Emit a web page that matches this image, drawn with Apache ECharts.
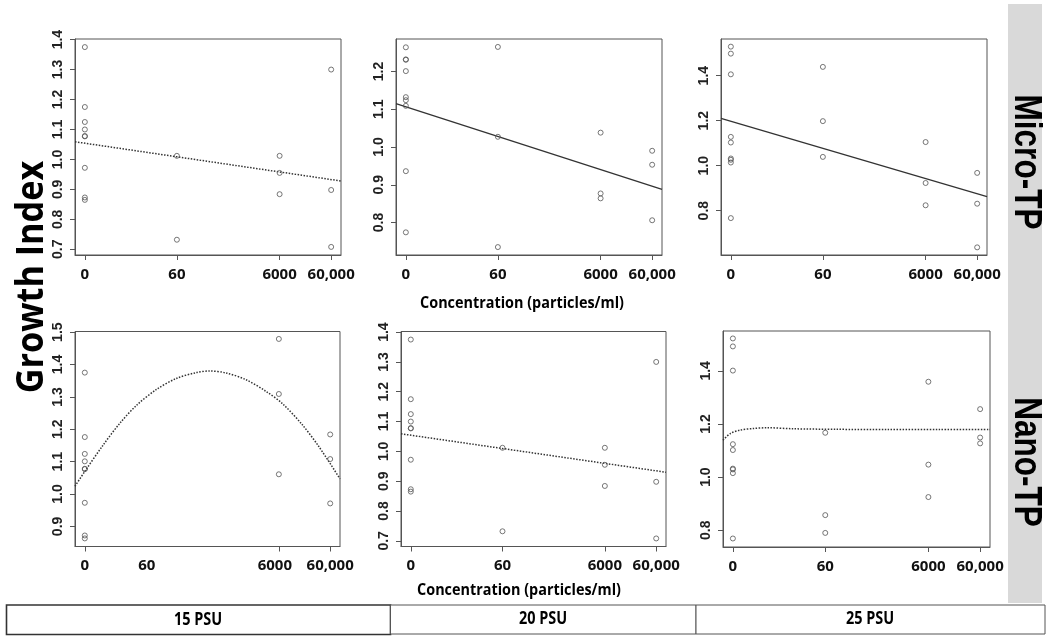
<!DOCTYPE html>
<html>
<head>
<meta charset="utf-8">
<script src="https://cdn.jsdelivr.net/npm/echarts@6/dist/echarts.min.js"></script>
<style>
html,body{margin:0;padding:0;background:#fff;}
#chart{width:1050px;height:641px;}
</style>
</head>
<body>
<div id="chart"></div>
<script>
// ---------- data ----------
const concentrations = [0, 60, 6000, 60000];
const xTickLabels = ['0', '60', '6000', '60,000'];
const rowLabels = ['Micro-TP', 'Nano-TP'];
const colLabels = ['15 PSU', '20 PSU', '25 PSU'];

// y tick labels per panel
const yTicksMicro15 = [0.7, 0.8, 0.9, 1.0, 1.1, 1.2, 1.3, 1.4];
const yTicksMicro20 = [0.8, 0.9, 1.0, 1.1, 1.2];
const yTicksMicro25 = [0.8, 1.0, 1.2, 1.4];
const yTicksNano15 = [0.9, 1.0, 1.1, 1.2, 1.3, 1.4, 1.5];
const yTicksNano20 = [0.7, 0.8, 0.9, 1.0, 1.1, 1.2, 1.3, 1.4];
const yTicksNano25 = [0.8, 1.0, 1.2, 1.4];

// growth index values, one list per concentration (0, 60, 6000, 60000)
const micro15 = [
  [1.375, 1.175, 1.125, 1.100, 1.078, 1.077, 0.972, 0.873, 0.865],
  [1.012, 0.732],
  [1.012, 0.955, 0.884],
  [1.300, 0.898, 0.708]
];
const micro20 = [
  [1.264, 1.232, 1.231, 1.201, 1.132, 1.124, 1.109, 0.936, 0.774],
  [1.265, 1.027, 0.735],
  [1.038, 0.877, 0.864],
  [0.990, 0.953, 0.806]
];
const micro25 = [
  [1.529, 1.498, 1.406, 1.128, 1.103, 1.032, 1.026, 1.014, 0.767],
  [1.439, 1.198, 1.039],
  [1.105, 0.923, 0.824],
  [0.968, 0.831, 0.637]
];
const nano15 = [
  [1.375, 1.176, 1.124, 1.101, 1.078, 1.077, 0.973, 0.872, 0.863],
  [],
  [1.479, 1.309, 1.061],
  [1.184, 1.108, 0.971]
];
const nano20 = [
  [1.375, 1.175, 1.125, 1.100, 1.078, 1.077, 0.972, 0.873, 0.865],
  [1.012, 0.732],
  [1.012, 0.955, 0.884],
  [1.300, 0.898, 0.708]
];
const nano25 = [
  [1.522, 1.492, 1.401, 1.124, 1.102, 1.032, 1.029, 1.015, 0.769],
  [1.167, 0.857, 0.790],
  [1.359, 1.047, 0.925],
  [1.256, 1.149, 1.127]
];

// fitted curves, x in log10(concentration + 1) units
const fitEndsX = [-0.191, 4.969];
const micro15Fit = [1.059, 0.928];
const micro20Fit = [1.115, 0.888];
const micro25Fit = [1.210, 0.862];
const nano20Fit = [1.059, 0.930];
const nano15CurveX = [-0.191, 0, 0.36, 0.684, 1.007, 1.395, 1.783, 2.17, 2.43, 2.75, 3.14, 3.53, 3.85, 4.24, 4.56, 4.969];
const nano15CurveY = [1.024, 1.070, 1.152, 1.219, 1.274, 1.323, 1.357, 1.375, 1.380, 1.374, 1.353, 1.317, 1.279, 1.213, 1.146, 1.047];
const nano25CurveX = [-0.191, -0.05, 0.14, 0.4, 0.66, 1.17, 2.0, 3.0, 4.0, 4.969];
const nano25CurveY = [1.139, 1.164, 1.177, 1.183, 1.186, 1.182, 1.180, 1.179, 1.179, 1.179];

// ---------- layout ----------
const lx = c => Math.log10(c + 1);
const xPos = concentrations.map(lx);

const panels = [
  {grid:{left:75, top:39, width:266, height:216}, ymin:0.681, ymax:1.402, yt:yTicksMicro15, pts:micro15,
   fit:{x:fitEndsX, y:micro15Fit, type:'dotted'}},
  {grid:{left:396, top:39, width:266, height:216}, ymin:0.714, ymax:1.286, yt:yTicksMicro20, pts:micro20,
   fit:{x:fitEndsX, y:micro20Fit, type:'solid'}},
  {grid:{left:721, top:39, width:266, height:216}, ymin:0.603, ymax:1.563, yt:yTicksMicro25, pts:micro25,
   fit:{x:fitEndsX, y:micro25Fit, type:'solid'}},
  {grid:{left:75, top:331.5, width:265, height:215}, ymin:0.838, ymax:1.502, yt:yTicksNano15, pts:nano15,
   fit:{x:nano15CurveX, y:nano15CurveY, type:'dotted', smooth:true},
   labelX:[0, 1.207, 3.70, 4.778], tickX:[xPos[0], xPos[2], xPos[3]]},
  {grid:{left:401, top:331.5, width:265, height:215}, ymin:0.681, ymax:1.402, yt:yTicksNano20, pts:nano20,
   fit:{x:fitEndsX, y:nano20Fit, type:'dotted'}},
  {grid:{left:723, top:331, width:267, height:216}, ymin:0.737, ymax:1.550, yt:yTicksNano25, pts:nano25,
   fit:{x:nano25CurveX, y:nano25CurveY, type:'dotted', smooth:true}}
];

const grids = [], xAxes = [], yAxes = [], series = [];
panels.forEach((p, i) => {
  grids.push(Object.assign({show:true, borderColor:'#555', borderWidth:1, backgroundColor:'#fff'}, p.grid));
  const labelX = p.labelX || xPos;
  const tickX = p.tickX || xPos;
  xAxes.push({
    type:'value', gridIndex:i, min:fitEndsX[0], max:fitEndsX[1],
    axisLine:{show:true, onZero:false, lineStyle:{color:'#555', width:1}},
    axisTick:{show:true, customValues:tickX, length:5, lineStyle:{color:'#555'}},
    axisLabel:{
      customValues:labelX, margin:12,
      formatter: v => { let k = 0, d = 1e9; labelX.forEach((t, j) => { if (Math.abs(t - v) < d) { d = Math.abs(t - v); k = j; } }); return xTickLabels[k]; },
      fontFamily:'Open Sans', fontWeight:'bold', fontSize:15, color:'#111'
    },
    splitLine:{show:false}
  });
  yAxes.push({
    type:'value', gridIndex:i, min:p.ymin, max:p.ymax,
    axisLine:{show:true, onZero:false, lineStyle:{color:'#555', width:1}},
    axisTick:{show:true, customValues:p.yt, length:5, lineStyle:{color:'#555'}},
    axisLabel:{
      customValues:p.yt, rotate:90, margin:10,
      formatter: v => Number(v).toFixed(1),
      fontFamily:'Liberation Sans', fontWeight:'bold', fontSize:14, color:'#222'
    },
    splitLine:{show:false}
  });
  const data = [];
  p.pts.forEach((vals, j) => vals.forEach(v => data.push([xPos[j], v])));
  series.push({
    type:'scatter', xAxisIndex:i, yAxisIndex:i, data:data,
    symbol:'circle', symbolSize:5,
    itemStyle:{color:'rgba(255,255,255,0)', borderColor:'#555', borderWidth:1}, z:3
  });
  series.push({
    type:'line', xAxisIndex:i, yAxisIndex:i,
    data:p.fit.x.map((x, j) => [x, p.fit.y[j]]),
    showSymbol:false, smooth:p.fit.smooth ? 0.3 : false,
    lineStyle:{color:'#333', width:p.fit.type === 'solid' ? 1.3 : 1.5, type:p.fit.type},
    z:2
  });
});

const graphics = [
  // right strip
  {type:'rect', shape:{x:1008, y:4, width:34, height:599}, style:{fill:'#d9d9d9'}},
  {type:'text', x:1025, y:162, rotation:-Math.PI/2, scaleX:0.83,
   style:{text:rowLabels[0], font:'bold 38px "Liberation Sans"', fill:'#000', align:'center', verticalAlign:'middle'}},
  {type:'text', x:1025, y:462, rotation:-Math.PI/2, scaleX:0.83,
   style:{text:rowLabels[1], font:'bold 38px "Liberation Sans"', fill:'#000', align:'center', verticalAlign:'middle'}},
  // y title
  {type:'text', x:32, y:277, rotation:Math.PI/2, scaleX:0.9,
   style:{text:'Growth Index', font:'bold 38px "Open Sans"', fill:'#000', align:'center', verticalAlign:'middle'}},
  // x titles
  {type:'text', x:522, y:303, scaleX:0.9,
   style:{text:'Concentration (particles/ml)', font:'bold 16px "Open Sans"', fill:'#000', align:'center', verticalAlign:'middle'}},
  {type:'text', x:519, y:590, scaleX:0.9,
   style:{text:'Concentration (particles/ml)', font:'bold 16px "Open Sans"', fill:'#000', align:'center', verticalAlign:'middle'}},
  // bottom boxes
  {type:'rect', shape:{x:6.5, y:605, width:384, height:29.5}, style:{fill:'#fff', stroke:'#333', lineWidth:1.6}},
  {type:'rect', shape:{x:390.5, y:605, width:305.5, height:29}, style:{fill:'#fff', stroke:'#555', lineWidth:1}},
  {type:'rect', shape:{x:696, y:605, width:349, height:29}, style:{fill:'#fff', stroke:'#555', lineWidth:1}},
  {type:'text', x:198, y:620, scaleX:0.85,
   style:{text:colLabels[0], font:'bold 17px "Open Sans"', fill:'#000', align:'center', verticalAlign:'middle'}},
  {type:'text', x:543, y:619, scaleX:0.85,
   style:{text:colLabels[1], font:'bold 17px "Open Sans"', fill:'#000', align:'center', verticalAlign:'middle'}},
  {type:'text', x:870, y:619, scaleX:0.85,
   style:{text:colLabels[2], font:'bold 17px "Open Sans"', fill:'#000', align:'center', verticalAlign:'middle'}}
];

const chart = echarts.init(document.getElementById('chart'), null, {renderer:'canvas'});
chart.setOption({
  animation:false,
  backgroundColor:'#fff',
  grid:grids, xAxis:xAxes, yAxis:yAxes, series:series,
  graphic:graphics
});
</script>
</body>
</html>
